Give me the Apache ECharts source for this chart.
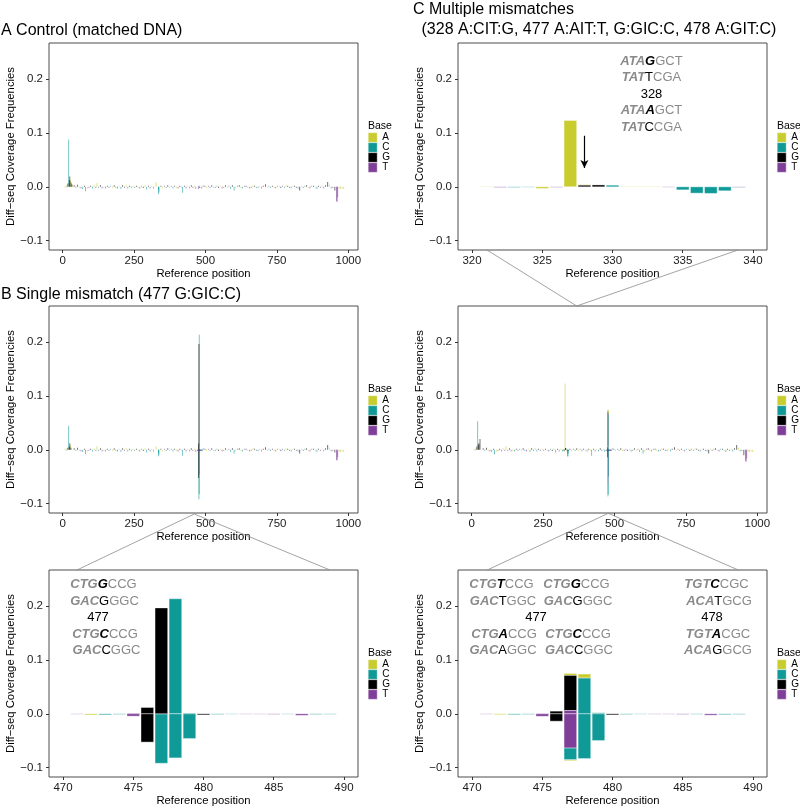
<!DOCTYPE html>
<html><head><meta charset="utf-8">
<script src="https://cdn.jsdelivr.net/npm/echarts@6/dist/echarts.min.js"></script>
<style>html,body{margin:0;padding:0;background:#fff}#c{width:800px;height:809px}</style>
</head><body><div id="c"></div>
<script>
// ---------------- DATA ----------------
const BASES = ['A', 'C', 'G', 'T'];
const yTickVals = [-0.1, 0, 0.1, 0.2];
const overviewTicks = [0, 250, 500, 750, 1000];
const zoom328Ticks = [320, 325, 330, 335, 340];
const zoom477Ticks = [470, 475, 480, 485, 490];

// background diff-seq noise along the reference (position, base, value)
const bgNoise = [
 [8,'A',0.002],[12,'T',-0.001],[40,'G',0.003],[46,'C',-0.002],[52,'G',0.004],[58,'A',-0.002],[64,'T',-0.003],
 [70,'C',-0.004],[76,'G',0.002],[80,'C',-0.008],[86,'A',-0.003],[92,'T',-0.002],[98,'G',0.002],[104,'C',-0.003],
 [110,'A',0.003],[116,'T',-0.002],[120,'A',0.007],[126,'C',-0.002],[132,'G',0.003],[138,'T',-0.003],[144,'A',-0.002],
 [150,'C',-0.003],[156,'G',0.002],[162,'T',-0.002],[168,'C',0.002],[174,'A',-0.002],[180,'G',0.003],[186,'C',-0.002],
 [192,'T',-0.003],[198,'A',0.002],[204,'C',-0.004],[210,'G',0.003],[216,'T',-0.002],[222,'A',0.004],[228,'C',-0.003],
 [234,'G',0.002],[240,'T',-0.002],[246,'A',0.002],[252,'C',-0.002],[258,'G',0.002],[264,'A',-0.002],[270,'T',-0.003],
 [276,'C',0.002],[282,'G',-0.002],[288,'A',0.003],[294,'C',-0.005],[300,'G',0.002],[306,'T',-0.003],[312,'A',0.002],
 [318,'C',-0.003],[344,'G',0.002],[350,'A',-0.003],[356,'T',0.002],[362,'C',-0.002],[368,'G',0.003],[374,'A',-0.002],
 [380,'T',0.002],[386,'C',-0.003],[392,'G',0.002],[398,'A',-0.002],[404,'T',-0.003],[410,'G',0.002],[416,'A',-0.002],
 [420,'C',-0.011],[426,'G',0.002],[432,'T',-0.003],[438,'A',0.002],[444,'C',-0.003],[450,'G',0.003],[456,'T',-0.002],
 [462,'A',0.002],[466,'C',-0.004],[492,'C',0.003],[498,'G',0.002],[504,'A',-0.002],[510,'T',0.002],[516,'C',-0.002],
 [522,'G',0.003],[528,'A',-0.002],[534,'T',-0.002],[540,'C',0.002],[546,'G',-0.002],[552,'A',0.002],[558,'T',-0.003],
 [564,'C',-0.002],[570,'G',0.003],[576,'A',-0.002],[582,'T',0.002],[588,'C',-0.004],[594,'G',0.003],[600,'C',-0.007],
 [606,'A',-0.003],[612,'T',0.002],[618,'G',0.003],[624,'A',-0.002],[630,'C',-0.003],[636,'T',0.002],[642,'G',0.002],
 [648,'A',-0.002],[654,'C',-0.003],[660,'T',-0.002],[666,'A',0.003],[672,'G',0.002],[678,'C',-0.002],[684,'T',-0.002],
 [690,'A',0.002],[696,'C',-0.003],[702,'G',0.002],[710,'G',0.005],[716,'A',-0.002],[722,'T',0.002],[728,'C',-0.002],
 [734,'G',0.002],[740,'A',-0.002],[746,'T',-0.003],[752,'C',0.002],[758,'A',0.002],[764,'G',-0.002],[770,'T',0.002],
 [776,'C',-0.002],[782,'A',0.003],[788,'G',0.002],[794,'T',-0.002],[800,'C',-0.003],[806,'A',0.002],[812,'G',0.002],
 [818,'T',-0.002],[824,'C',-0.003],[830,'G',-0.007],[836,'A',0.002],[842,'T',-0.002],[848,'C',0.002],[854,'G',0.003],
 [860,'A',-0.002],[866,'T',-0.003],[872,'C',0.002],[878,'G',0.002],[884,'A',-0.002],[890,'C',-0.004],[896,'G',0.002],
 [902,'T',-0.002],[908,'A',0.002],[914,'C',-0.003],[920,'G',0.003],[928,'G',0.009],[934,'A',0.004],[940,'C',-0.003],
 [946,'T',-0.002],[968,'A',-0.003],[972,'A',-0.004],[978,'A',-0.003],[984,'A',-0.004]
];

// panel-specific features of the overview panels
const controlExtra = [
 [15,'A',0.004],[18,'G',0.006],[21,'C',0.088],[23,'G',0.012],[25,'G',0.019],[27,'A',0.012],[29,'G',0.008],[32,'G',0.005],[35,'A',0.003],
 [327,'A',0.009],[335,'C',-0.006],[336,'C',-0.014],[337,'C',-0.01],
 [475,'T',-0.004],[477,'G',0.002],[480,'G',-0.002],[487,'T',-0.003],
 [953,'G',-0.007],[959,'T',-0.027],[961,'T',-0.028],[963,'T',-0.02]
];
const singleExtra = [
 [15,'A',0.003],[18,'G',0.004],[21,'C',0.045],[23,'G',0.006],[25,'G',0.012],[27,'A',0.008],[29,'G',0.004],
 [327,'A',0.006],[335,'C',-0.005],[336,'C',-0.012],[337,'C',-0.009],
 [953,'G',-0.005],[959,'T',-0.019],[961,'T',-0.02],[963,'T',-0.014]
];
const multiExtra = [
 [15,'A',0.004],[18,'G',0.006],[21,'C',0.053],[23,'G',0.01],[25,'G',0.012],[27,'A',0.01],[29,'G',0.02],
 [953,'G',-0.01],[959,'T',-0.021],[961,'T',-0.022],[963,'T',-0.016]
];

// zoom windows
const zoomC328 = [
 [321,'A',0.0004],[322,'T',-0.001],[323,'C',-0.001],[324,'C',-0.0006],[325,'A',-0.003],[326,'T',-0.0008],
 [327,'A',0.1235],[328,'G',0.003],[328,'A',0.001],[329,'G',0.0035],[330,'C',0.003],[331,'A',0.0004],[332,'A',0.0003],
 [333,'A',0.0004],[334,'T',-0.0006],[335,'C',-0.0056],[336,'C',-0.0118],[337,'C',-0.0123],[338,'C',-0.0074],
 [339,'C',-0.0008],[339,'T',-0.0004]
];
const zoomB477 = [
 [471,'T',-0.0005],[472,'A',-0.002],[473,'C',-0.0018],[474,'C',-0.001],[475,'T',0.0012],[475,'T',-0.0043],
 [476,'G',0.0118],[476,'G',-0.0526],[477,'G',0.197],[477,'C',-0.092],[478,'C',0.214],[478,'C',-0.082],
 [479,'C',0.0015],[479,'C',-0.046],[480,'G',-0.002],[481,'C',-0.0012],[482,'C',-0.0005],[483,'T',-0.0006],
 [484,'T',-0.0005],[485,'T',-0.0009],[486,'C',-0.0006],[487,'T',-0.0028],[488,'C',-0.0012],[489,'C',-0.0008]
];
const zoomC477 = [
 [471,'T',-0.0005],[472,'A',-0.0015],[473,'C',-0.0015],[474,'C',-0.001],[475,'T',0.0006],[475,'T',-0.0045],
 [476,'G',0.005],[476,'G',-0.0137],[477,'T',0.0062],[477,'G',0.0652],[477,'A',0.0037],[477,'T',-0.0634],
 [477,'C',-0.0217],[477,'A',-0.002],[478,'C',0.0665],[478,'A',0.0075],[478,'C',-0.0832],[479,'C',0.0019],
 [479,'C',-0.0497],[480,'G',-0.002],[481,'C',-0.0012],[482,'C',-0.0006],[483,'T',-0.0006],[484,'T',-0.0006],
 [485,'T',-0.001],[486,'C',-0.0008],[487,'T',-0.0025],[488,'C',-0.0015],[489,'C',-0.001]
];

// annotation texts
const titleA = 'A Control (matched DNA)';
const titleB = 'B Single mismatch (477 G:GIC:C)';
const titleC1 = 'C Multiple mismatches';
const titleC2 = '(328 A:CIT:G, 477 A:AIT:T, G:GIC:C, 478 A:GIT:C)';
const seq328 = ['{gb|ATA}{kb|G}{g|GCT}','{gb|TAT}{k|T}{g|CGA}','{k|328}','{gb|ATA}{kb|A}{g|GCT}','{gb|TAT}{k|C}{g|CGA}'];
const seqB477 = ['{gb|CTG}{kb|G}{g|CCG}','{gb|GAC}{k|G}{g|GGC}','{k|477}','{gb|CTG}{kb|C}{g|CCG}','{gb|GAC}{k|C}{g|GGC}'];
const seqC477a = ['{gb|CTG}{kb|T}{g|CCG}','{gb|GAC}{k|T}{g|GGC}','{k|477}','{gb|CTG}{kb|A}{g|CCG}','{gb|GAC}{k|A}{g|GGC}'];
const seqC477b = ['{gb|CTG}{kb|G}{g|CCG}','{gb|GAC}{k|G}{g|GGC}','','{gb|CTG}{kb|C}{g|CCG}','{gb|GAC}{k|C}{g|GGC}'];
const seqC478 = ['{gb|TGT}{kb|C}{g|CGC}','{gb|ACA}{k|T}{g|GCG}','{k|478}','{gb|TGT}{kb|A}{g|CGC}','{gb|ACA}{k|G}{g|GCG}'];

// ---------------- CHART ----------------
const FF = '"Liberation Sans", Arial, Helvetica, sans-serif';
const COLORS = {A:'#C9CC2E', C:'#0F9A97', G:'#000000', T:'#7F3F98'};
const ORDER = ['T','G','C','A']; // stacking from zero outwards

function stackBars(list){
  const byPos = new Map();
  list.forEach(([p,b,v]) => { if(!byPos.has(p)) byPos.set(p, []); byPos.get(p).push([b,v]); });
  const out = {A:[],C:[],G:[],T:[]};
  byPos.forEach((items, p) => {
    let up = 0, dn = 0;
    items.slice().sort((a,b)=>ORDER.indexOf(a[0])-ORDER.indexOf(b[0])).forEach(([b,v]) => {
      if (v >= 0) { out[b].push([p, up, up+v]); up += v; }
      else { out[b].push([p, dn, dn+v]); dn += v; }
    });
  });
  return out;
}

const W = 309, H = 207;
const panels = [
  {left:49,  top:43,  xr:[-48,1034], xt:overviewTicks, mode:'over', bars:bgNoise.concat(controlExtra)},
  {left:458, top:43,  xr:[319,341],  xt:zoom328Ticks,  mode:'zoom', bars:zoomC328},
  {left:49,  top:306, xr:[-48,1034], xt:overviewTicks, mode:'over', bars:bgNoise.concat(singleExtra, zoomB477)},
  {left:458, top:306, xr:[-48,1034], xt:overviewTicks, mode:'over', bars:bgNoise.concat(multiExtra, zoomC328, zoomC477)},
  {left:49,  top:570, xr:[469,491],  xt:zoom477Ticks,  mode:'zoom', bars:zoomB477},
  {left:458, top:570, xr:[469,491],  xt:zoom477Ticks,  mode:'zoom', bars:zoomC477}
];

function makeRender(color, mode){
  return function(params, api){
    const x = api.value(0), y0 = api.value(1), y1 = api.value(2);
    const a = api.coord([x-0.45, y0]), b = api.coord([x+0.45, y1]);
    let left = a[0], w = b[0]-a[0];
    if (mode === 'over' && w < 0.8) { left = (a[0]+b[0])/2 - 0.4; w = 0.8; }
    const top = Math.min(a[1], b[1]), h = Math.max(Math.abs(a[1]-b[1]), mode==='over'?0.6:0.3);
    return {type:'rect', shape:{x:left, y:top, width:w, height:h},
      style: mode === 'zoom' ? {fill:color, stroke:'#ffffff', lineWidth:0.4} : {fill:color, opacity:0.7}};
  };
}

const grids = [], xAxes = [], yAxes = [], series = [], legends = [], graphics = [];
const axisLabelStyle = {fontSize:11.5, color:'#1a1a1a', fontFamily:FF};
panels.forEach((p, i) => {
  grids.push({left:p.left, top:p.top, width:W, height:H, show:true, borderColor:'#4d4d4d', borderWidth:1});
  xAxes.push({type:'value', gridIndex:i, min:p.xr[0], max:p.xr[1], position:'bottom',
    axisLine:{show:false, onZero:false}, splitLine:{show:false},
    axisTick:{show:true, customValues:p.xt, length:3, lineStyle:{color:'#333'}},
    axisLabel:Object.assign({customValues:p.xt, margin:5, formatter: v => String(v)}, axisLabelStyle),
    name:'Reference position', nameLocation:'middle', nameGap:18,
    nameTextStyle:{fontSize:11.3, color:'#000', fontFamily:FF}});
  yAxes.push({type:'value', gridIndex:i, min:-0.1175, max:0.2675, position:'left',
    axisLine:{show:false, onZero:false}, splitLine:{show:false},
    axisTick:{show:true, customValues:yTickVals, length:3, lineStyle:{color:'#333'}},
    axisLabel:Object.assign({customValues:yTickVals, margin:6,
      formatter: v => (v < -1e-9 ? '\u2212' : '') + Math.abs(v).toFixed(1)}, axisLabelStyle),
    name:'Diff\u2212seq Coverage Frequencies', nameLocation:'middle', nameGap:33,
    nameTextStyle:{fontSize:11.3, color:'#000', fontFamily:FF}});
  const st = stackBars(p.bars);
  BASES.forEach(b => {
    const s = {type:'custom', name:b, xAxisIndex:i, yAxisIndex:i, clip:true, silent:true,
      itemStyle:{color:COLORS[b]}, encode:{x:0, y:[1,2]}, data:st[b],
      renderItem:makeRender(COLORS[b], p.mode)};
    if (i === 1 && b === 'G') {
      s.markLine = {silent:true, symbol:['none','arrow'], symbolSize:[6,8], animation:false,
        lineStyle:{color:'#000', width:1.2, type:'solid'}, label:{show:false},
        data:[[{coord:[328, 0.095]}, {coord:[328, 0.035]}]]};
    }
    series.push(s);
  });
  const lx = p.left + W + 10;
  legends.push({data:BASES, orient:'vertical', left:lx, top:p.top + 89.5, padding:0,
    itemWidth:9, itemHeight:9.6, itemGap:0, icon:'rect', selectedMode:false,
    itemStyle:{borderColor:'#fff', borderWidth:0.4},
    textStyle:{fontSize:10, color:'#000', fontFamily:FF, lineHeight:9.6}});
  graphics.push({type:'text', x:lx, y:p.top + 83.5,
    style:{text:'Base', fontSize:10.5, fontFamily:FF, fill:'#000', verticalAlign:'middle'}});
});

// titles
function title(t, x, y){ graphics.push({type:'text', x, y, style:{text:t, fontSize:16, fontFamily:FF, fill:'#000', verticalAlign:'middle'}}); }
title(titleA, 1, 31);
title(titleB, 1, 295);
title(titleC1, 413, 10);
title(titleC2, 421.5, 29.5);

// sequence annotations
const rich = {
  gb:{fill:'#8a8a8a', fontWeight:'bold', fontStyle:'italic', fontSize:13, fontFamily:FF},
  kb:{fill:'#000', fontWeight:'bold', fontStyle:'italic', fontSize:13, fontFamily:FF},
  g:{fill:'#8a8a8a', fontSize:13, fontFamily:FF},
  k:{fill:'#000', fontSize:13, fontFamily:FF}
};
function seqBlock(lines, xs, ys){
  lines.forEach((t, j) => {
    if (!t) return;
    graphics.push({type:'text', x:xs[j], y:ys[j], style:{text:t, rich, align:'center', verticalAlign:'middle', fontSize:13, fontFamily:FF}});
  });
}
const rowsTop = [61, 77.5, 94, 110.5, 127];
const rowsBot = [584, 601, 617.5, 634, 650.5];
seqBlock(seq328, [651.5, 651.5, 651.5, 651.5, 651.5], rowsTop);
seqBlock(seqB477, [103.5, 104.5, 98, 105, 106.5], rowsBot);
seqBlock(seqC477a, [501.5, 503, 536, 504, 503], rowsBot);
seqBlock(seqC477b, [576.5, 578, 0, 578, 579], rowsBot);
seqBlock(seqC478, [716.5, 719, 712, 718, 718], rowsBot);

// zoom connector lines (decoration)
const connectors = [[487,250,576.7,306],[738,250,576.7,306],[194.3,514,77,570],[194.3,514,330,570],[608.3,513.3,487.3,570],[608.3,513.3,738.3,570]];
connectors.forEach(c => graphics.push({type:'line', shape:{x1:c[0], y1:c[1], x2:c[2], y2:c[3]}, style:{stroke:'#8c8c8c', lineWidth:0.8}, z:100}));

const chart = echarts.init(document.getElementById('c'), null, {renderer:'canvas'});
chart.setOption({
  animation:false, backgroundColor:'#fff',
  grid:grids, xAxis:xAxes, yAxis:yAxes, series, legend:legends, graphic:graphics
});
</script></body></html>
